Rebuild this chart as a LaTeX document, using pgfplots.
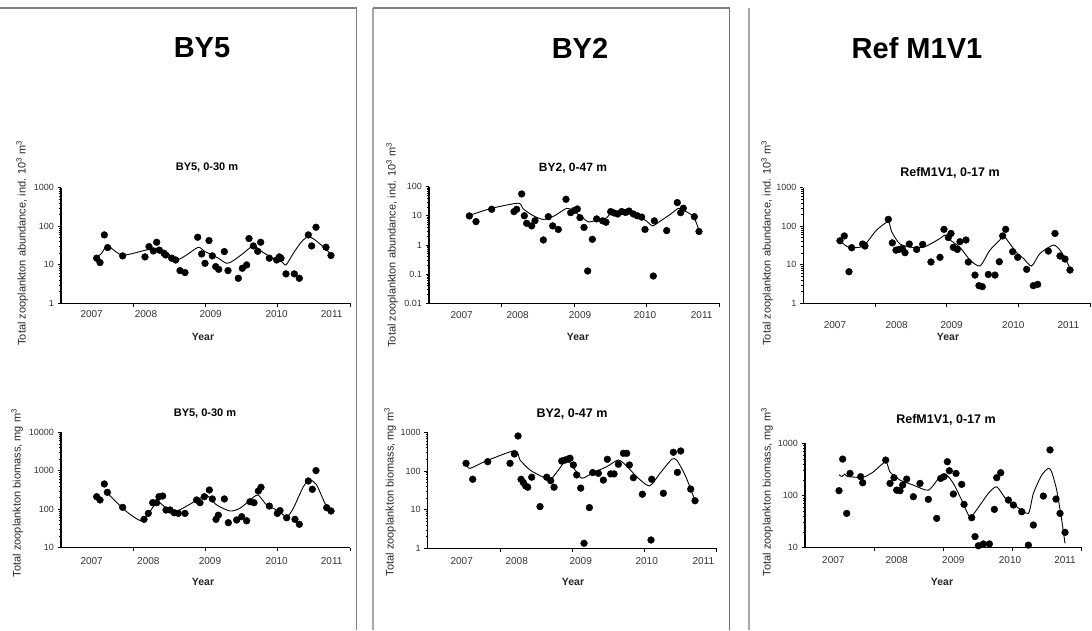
\documentclass[border=0pt]{standalone}
\usepackage{pgfplots}
\pgfplotsset{compat=1.18}
\usepackage{fontspec}
\setmainfont{Liberation Sans}
\pgfplotsset{
  panel/.style={
    scale only axis, anchor=south west,
    axis lines*=left, axis line style={line width=1.4pt, black},
    tick align=outside, major tick length=3.5pt, minor tick length=2pt,
    tick style={black, line width=0.7pt},
    xtick style={draw=none},
    tick label style={text=black!80},
    yticklabel style={font=\fontsize{9}{10}\selectfont},
    xticklabel style={font=\fontsize{10}{11}\selectfont},
    extra x tick labels={},
    extra x tick style={xtick style={draw=black, line width=0.7pt}},
    clip=false,
  },
  pts/.style={only marks, mark=*, mark size=3.4pt, black},
  fit/.style={no markers, smooth, tension=0.4, black, line width=0.9pt},
}
\begin{document}
\begin{tikzpicture}[x=1pt,y=1pt]
\path[use as bounding box] (0,0) rectangle (1092,630);
% panel frames
\draw[black!50, line width=1.8pt] (0,622) -- (357,622);
\draw[black!50, line width=1.8pt] (356.5,622) -- (356.5,0);
\draw[black!35, line width=1.8pt] (373,622) -- (373,0);
\draw[black!50, line width=1.8pt] (373,622) -- (729.5,622);
\draw[black!55, line width=1.8pt] (729.5,622) -- (729.5,0);
\draw[black!35, line width=1.8pt] (749,622) -- (749,0);

% ---------- A: BY5 abundance
\begin{axis}[panel, ymode=log, at={(61pt,326.7pt)}, width=289pt, height=115.6pt,
  xmin=183, xmax=1050, ymin=1, ymax=1000,
  xtick={275,438,632,830,995}, xticklabels={2007,2008,2009,2010,2011},
  extra x ticks={399.75,616.5,833.25,1050},
  ytick={1,10,100,1000}, yticklabels={1,10,100,1000},
  minor ytick={2,3,...,9,20,30,...,90,200,300,...,900}]
\addplot[pts] coordinates {(290,14.8)(300,11.4)(313,59.6)(323,27.9)(368,17)(435,16)(447,29.6)(460,22.9)(470,38.4)(478,24)(492,19.9)(497,18)(515,14.8)(527,13.3)(540,7.05)(555,6.26)(593,51.8)(605,19.1)(615,10.9)(627,42.5)(637,17)(647,8.96)(656,7.6)(673,22)(684,7.05)(715,4.46)(727,8.1)(740,9.9)(747,47.9)(760,30.8)(773,22.4)(782,38.4)(808,14.8)(830,13.3)(838,16)(843,14.8)(858,5.8)(883,5.8)(898,4.46)(925,59.6)(935,30.8)(948,94)(978,28.5)(993,17.4)};
\addplot[fit] coordinates {(290,15.7)(305,19.9)(318,29.6)(330,28.5)(368,17.7)(440,24.3)(470,26.8)(500,20.7)(530,13.4)(560,18)(595,28.5)(615,22)(650,15.7)(680,10.9)(700,12.8)(730,19.9)(760,30.8)(790,20.7)(820,14.7)(845,12.1)(858,9.9)(880,19.9)(905,40)(925,53.9)(945,44.2)(975,26.8)(993,18.7)};
\end{axis}

% ---------- B: BY5 biomass
\begin{axis}[panel, ymode=log, at={(61pt,82.3pt)}, width=289pt, height=115.4pt,
  xmin=183, xmax=1050, ymin=10, ymax=10000,
  xtick={275,445,630,830,995}, xticklabels={2007,2008,2009,2010,2011},
  xticklabel style={yshift=-3pt},
  extra x ticks={399.75,616.5,833.25,1050},
  ytick={10,100,1000,10000}, yticklabels={10,100,1000,10000},
  minor ytick={20,30,...,90,200,300,...,900,2000,3000,...,9000}]
\addplot[pts] coordinates {(290,212)(300,174)(313,454)(322,275)(368,112)(432,54.6)(445,78)(458,148)(470,148)(477,212)(488,221)(498,95.5)(510,95.5)(523,81)(535,78)(555,78)(590,174)(600,148)(613,212)(628,316)(637,185)(648,54.6)(655,70)(673,185)(685,44.7)(710,52.5)(725,64)(740,50)(750,157)(762,148)(775,298)(783,372)(808,121)(832,78)(840,92)(860,60)(885,54.6)(898,40.5)(925,543)(937,330)(948,1010)(980,110)(993,90)};
\addplot[fit] coordinates {(318,286)(368,106)(400,64)(430,49.5)(460,117)(478,148)(500,106)(530,90)(560,121)(600,192)(620,233)(650,129)(690,90)(720,106)(760,203)(775,233)(800,129)(830,95.5)(860,64)(880,106)(910,386)(930,577)(950,426)(975,142)(990,106)};
\end{axis}

% ---------- C: BY2 abundance
\begin{axis}[panel, ymode=log, at={(429pt,326.7pt)}, width=290pt, height=116.7pt,
  xmin=207, xmax=1077, ymin=0.01, ymax=100,
  xtick={305,473,660,855,1025}, xticklabels={2007,2008,2009,2010,2011},
  xticklabel style={yshift=-1pt},
  extra x ticks={424.5,642,859.5,1077},
  ytick={0.01,0.1,1,10,100}, yticklabels={0.01,0.1,1,10,100},
  minor ytick={0.02,0.03,0.04,0.05,0.06,0.07,0.08,0.09,0.2,0.3,0.4,0.5,0.6,0.7,0.8,0.9,2,3,...,9,20,30,...,90}]
\addplot[pts] coordinates {(328,9.87)(348,6.3)(395,16.7)(462,13.9)(470,16.7)(485,56)(493,10)(500,5.5)(515,4.5)(525,6.8)(550,1.48)(565,9.3)(578,4.5)(595,3.4)(618,36.8)(632,12.8)(643,15.2)(652,17.1)(660,8.6)(672,4.0)(683,0.128)(697,1.56)(710,7.8)(728,6.7)(738,6.0)(752,13.9)(762,12.5)(773,11.5)(785,13.9)(797,13)(807,14.5)(820,11.5)(832,10)(845,9.0)(855,3.4)(880,0.086)(883,6.7)(920,3.1)(952,28.3)(962,12.8)(970,18.1)(1003,9.3)(1017,2.9)};
\addplot[fit] coordinates {(330,10.5)(395,18)(475,27)(490,17)(520,10)(550,7.5)(580,9.5)(620,18)(640,15)(660,10)(685,6.2)(710,7)(740,8.5)(755,12.5)(800,13)(830,10.5)(860,6.5)(878,4.5)(900,6.5)(930,11)(955,18)(968,16)(1000,9.5)(1017,3.2)};
\end{axis}

% ---------- D: BY2 biomass
\begin{axis}[panel, ymode=log, at={(427.7pt,81.7pt)}, width=289pt, height=116pt,
  xmin=203, xmax=1070, ymin=1, ymax=1000,
  xtick={305,470,662,860,1030}, xticklabels={2007,2008,2009,2010,2011},
  xticklabel style={yshift=-2.5pt},
  extra x ticks={419.75,636.5,853.25,1070},
  ytick={1,10,100,1000}, yticklabels={1,10,100,1000},
  minor ytick={2,3,...,9,20,30,...,90,200,300,...,900}]
\addplot[pts] coordinates {(318,158)(338,61)(383,174)(450,158)(463,275)(474,804)(483,61)(490,50)(497,41)(503,38)(515,69)(540,12)(560,69)(572,56)(582,38)(605,181)(615,192)(625,204)(630,213)(640,143)(650,79)(662,36)(672,1.35)(688,11.3)(698,91)(715,87)(730,58)(742,200)(752,84)(762,84)(775,149)(790,286)(800,286)(808,143)(820,67)(847,25)(873,1.64)(875,61)(910,26.5)(940,304)(952,92)(962,329)(992,34)(1005,17)};
\addplot[fit] coordinates {(318,150)(330,117)(380,184)(465,336)(480,192)(510,106)(550,69)(575,65)(610,158)(622,192)(640,124)(665,65)(700,91)(740,129)(775,192)(800,134)(830,71)(868,41)(900,87)(935,200)(950,192)(975,79)(995,29)(1005,17)};
\end{axis}

% ---------- E: RefM1V1 abundance
\begin{axis}[panel, ymode=log, at={(803.3pt,326.7pt)}, width=286.7pt, height=115.6pt,
  xmin=190, xmax=1050, ymin=1, ymax=1000,
  xtick={285,470,635,820,985}, xticklabels={2007,2008,2009,2010,2011},
  xticklabel style={yshift=-11pt},
  extra x ticks={405,620,835,1050},
  ytick={1,10,100,1000}, yticklabels={1,10,100,1000},
  minor ytick={2,3,...,9,20,30,...,90,200,300,...,900}]
\addplot[pts] coordinates {(300,42)(313,56)(327,6.6)(335,27.7)(368,34.5)(375,30.7)(445,151)(457,37)(468,24)(477,25)(487,26.5)(495,20.6)(508,34.5)(530,25)(548,33.8)(573,11.8)(600,15.6)(612,83)(625,51)(633,65)(640,28.3)(652,25)(660,39.7)(678,43.9)(685,11.8)(705,5.4)(717,2.87)(727,2.7)(745,5.6)(765,5.4)(778,12)(788,56)(797,83)(818,21.9)(833,15.6)(860,7.6)(880,2.87)(893,3.1)(925,22.7)(945,65)(960,16.9)(975,14.1)(990,7.3)};
\addplot[fit] coordinates {(300,42)(315,32.4)(330,28)(370,30.5)(410,80)(445,130)(455,72)(480,34.5)(520,28)(555,29.5)(600,48)(615,59)(630,44)(660,28.3)(690,13.3)(720,9.3)(750,24)(790,53)(800,45.6)(830,20.6)(850,14.7)(875,9.3)(900,19.8)(940,32.4)(960,24)(975,14.7)(990,8.1)};
\end{axis}

% ---------- F: RefM1V1 biomass
\begin{axis}[panel, ymode=log, at={(805pt,82.3pt)}, width=276.7pt, height=104.3pt,
  xmin=195, xmax=1025, ymin=10, ymax=1000,
  xtick={280,470,640,810,975}, xticklabels={2007,2008,2009,2010,2011},
  xticklabel style={yshift=-1.5pt},
  extra x ticks={402.5,610,817.5,1025},
  ytick={10,100,1000}, yticklabels={10,100,1000},
  minor ytick={20,30,...,90,200,300,...,900}]
\addplot[pts] coordinates {(297,124)(308,500)(320,45.5)(330,266)(362,230)(368,176)(437,479)(450,171)(462,220)(470,127)(480,124)(488,159)(500,207)(520,95)(540,171)(565,84.5)(590,36.5)(602,213)(612,230)(622,445)(628,299)(640,107)(648,266)(665,164)(672,67.7)(695,37.6)(705,16.3)(715,10.9)(730,11.8)(748,11.8)(763,54.3)(770,220)(782,274)(805,82)(820,65.8)(845,49)(865,11.2)(880,27.2)(910,97.8)(930,750)(948,85.7)(960,45.5)(975,19.7)};
\addplot[fit] coordinates {(297,250)(306,232)(314,258)(322,232)(360,222)(375,230)(400,284)(437,445)(450,284)(480,198)(520,159)(565,127)(600,230)(620,246)(640,171)(665,82)(690,39.2)(720,65.8)(745,110)(770,147)(800,82)(830,61)(865,45.5)(880,110)(905,246)(925,333)(935,284)(950,127)(965,34)(975,12.1)};
\end{axis}

% big titles
\node[font=\fontsize{29}{30}\selectfont\bfseries] at (202,582) {BY5};
\node[font=\fontsize{29}{30}\selectfont\bfseries] at (580,582) {BY2};
\node[font=\fontsize{29}{30}\selectfont\bfseries] at (917,582) {Ref M1V1};
% small titles
\node[font=\fontsize{11}{12}\selectfont\bfseries] at (207,462) {BY5, 0-30 m};
\node[font=\fontsize{11}{12}\selectfont\bfseries] at (205,216) {BY5, 0-30 m};
\node[font=\fontsize{12}{13}\selectfont\bfseries] at (573,462) {BY2, 0-47 m};
\node[font=\fontsize{12.5}{13}\selectfont\bfseries] at (572,216) {BY2, 0-47 m};
\node[font=\fontsize{12.5}{13}\selectfont\bfseries] at (950,457) {RefM1V1, 0-17 m};
\node[font=\fontsize{12.5}{13}\selectfont\bfseries] at (946,210) {RefM1V1, 0-17 m};
% x labels
\foreach \p in {(203,293),(203,48),(578,293),(573,48),(948,293),(942,48)}
  \node[font=\fontsize{10.5}{11}\selectfont\bfseries, text=black!85] at \p {Year};
% y labels
\node[rotate=90, font=\fontsize{11}{12}\selectfont, text=black!85] at (22,387) {Total zooplankton abundance, ind. 10\textsuperscript{3} m\textsuperscript{3}};
\node[rotate=90, font=\fontsize{11}{12}\selectfont, text=black!85] at (17,137) {Total zooplankton biomass, mg m\textsuperscript{3}};
\node[rotate=90, font=\fontsize{11}{12}\selectfont, text=black!85] at (392,385) {Total zooplankton abundance, ind. 10\textsuperscript{3} m\textsuperscript{3}};
\node[rotate=90, font=\fontsize{11}{12}\selectfont, text=black!85] at (390,138) {Total zooplankton biomass, mg m\textsuperscript{3}};
\node[rotate=90, font=\fontsize{11}{12}\selectfont, text=black!85] at (767,387) {Total zooplankton abundance, ind. 10\textsuperscript{3} m\textsuperscript{3}};
\node[rotate=90, font=\fontsize{11}{12}\selectfont, text=black!85] at (767,138) {Total zooplankton biomass, mg m\textsuperscript{3}};
\end{tikzpicture}
\end{document}
